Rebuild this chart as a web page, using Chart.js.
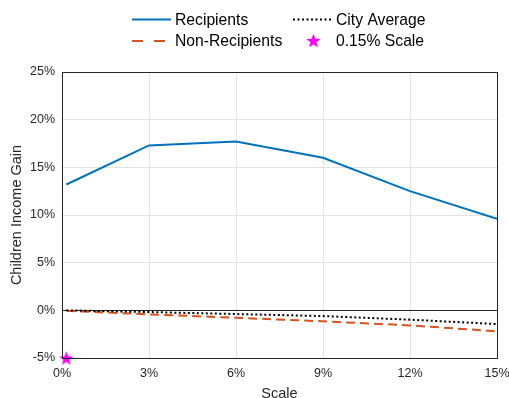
<!DOCTYPE html>
<html>
<head>
<meta charset="utf-8">
<script src="https://cdn.jsdelivr.net/npm/chart.js@4"></script>
<style>
  body { margin: 0; background: #fff; }
  #wrap { width: 509px; height: 398px; }
</style>
</head>
<body>
<div id="wrap"><canvas id="myChart" width="509" height="398"></canvas></div>
<script>
//data
const scale_pts = [0.15, 3, 6, 9, 12, 15];
const recipients = [13.2, 17.3, 17.7, 16.0, 12.5, 9.6];
const non_recipients = [-0.05, -0.42, -0.78, -1.15, -1.58, -2.2];
const city_average = [0, -0.18, -0.39, -0.6, -0.98, -1.44];
const star_point = [{x: 0.15, y: -5}];

const x_ticks = [0, 3, 6, 9, 12, 15];
const y_ticks = [-5, 0, 5, 10, 15, 20, 25];

const blue = '#0072BD';
const orange = '#D95319';
const magenta = '#FF00FF';
const font_family = '"Liberation Sans", Arial, Helvetica, sans-serif';

function toPoints(xs, ys) {
    return xs.map((x, i) => ({x: x, y: ys[i]}));
}

//filled five point star for the marker
function makeStar(size, color) {
    const c = document.createElement('canvas');
    c.width = size; c.height = size;
    const g = c.getContext('2d');
    const cx = size / 2, cy = size / 2 + size * 0.05, r = size / 2, ri = r * 0.42;
    g.beginPath();
    for (let i = 0; i < 10; i++) {
        const a = -Math.PI / 2 + i * Math.PI / 5;
        const rr = i % 2 === 0 ? r : ri;
        g.lineTo(cx + rr * Math.cos(a), cy + rr * Math.sin(a));
    }
    g.closePath();
    g.fillStyle = color;
    g.fill();
    return c;
}
const starImg = makeStar(15, magenta);
const starSmall = makeStar(15, magenta);

//box around plot + legend
const boxPlugin = {
    id: 'box',
    afterDraw(chart) {
        const ctx = chart.ctx;
        const a = chart.chartArea;
        ctx.save();
        ctx.strokeStyle = '#262626';
        ctx.lineWidth = 1;
        ctx.strokeRect(Math.round(a.left) + 0.5, Math.round(a.top) + 0.5,
            Math.round(a.right - a.left), Math.round(a.bottom - a.top));

        ctx.font = '15.7px ' + font_family;
        ctx.fillStyle = '#000';
        ctx.textBaseline = 'middle';
        ctx.lineWidth = 2;
        // row 1
        ctx.strokeStyle = blue;
        ctx.setLineDash([]);
        ctx.beginPath(); ctx.moveTo(132, 19.5); ctx.lineTo(171, 19.5); ctx.stroke();
        ctx.fillText('Recipients', 175, 20.5);
        ctx.strokeStyle = '#000';
        ctx.setLineDash([2, 2.5]);
        ctx.beginPath(); ctx.moveTo(293, 19.5); ctx.lineTo(333, 19.5); ctx.stroke();
        ctx.fillText('City Average', 336, 20.5);
        // row 2
        ctx.strokeStyle = orange;
        ctx.setLineDash([11, 11]);
        ctx.beginPath(); ctx.moveTo(132, 41); ctx.lineTo(165, 41); ctx.stroke();
        ctx.setLineDash([]);
        ctx.fillText('Non-Recipients', 175, 42);
        ctx.drawImage(starSmall, 306, 33);
        ctx.fillText('0.15% Scale', 336, 42);
        ctx.restore();
    }
};

var ctx = document.getElementById('myChart').getContext('2d');
var chart = new Chart(ctx, {
    type: 'scatter',
    data: {
        datasets: [{
            label: 'Recipients',
            data: toPoints(scale_pts, recipients),
            showLine: true,
            borderColor: blue,
            borderWidth: 2,
            pointRadius: 0,
            order: 2
        }, {
            label: 'Non-Recipients',
            data: toPoints(scale_pts, non_recipients),
            showLine: true,
            borderColor: orange,
            borderWidth: 2,
            borderDash: [9, 5],
            pointRadius: 0,
            order: 1
        }, {
            label: 'City Average',
            data: toPoints(scale_pts, city_average),
            showLine: true,
            borderColor: '#000',
            borderWidth: 2,
            borderDash: [2, 2.5],
            pointRadius: 0,
            order: 0
        }, {
            label: '0.15% Scale',
            data: star_point,
            pointStyle: starImg,
            pointRadius: 8,
            clip: false,
            order: -1
        }]
    },
    options: {
        responsive: false,
        animation: false,
        layout: { padding: { top: 72, right: 0, left: 0, bottom: 0 } },
        plugins: {
            legend: { display: false },
            tooltip: { enabled: false }
        },
        scales: {
            x: {
                type: 'linear',
                min: 0, max: 15,
                afterBuildTicks: axis => { axis.ticks = x_ticks.map(v => ({value: v})); },
                afterFit: axis => { axis.height = 40; axis.paddingRight = 12; axis.paddingLeft = 0; },
                ticks: {
                    color: '#262626',
                    font: { family: font_family, size: 12.5 },
                    padding: 8.5,
                    maxRotation: 0,
                    callback: v => v + '%'
                },
                grid: { color: '#e3e3e3', tickLength: 0, drawTicks: false },
                border: { color: '#262626' },
                title: {
                    display: true, text: 'Scale', color: '#262626',
                    font: { family: font_family, size: 14.5, lineHeight: 1 },
                    padding: { top: 0, bottom: -3 }
                }
            },
            y: {
                min: -5, max: 25,
                afterBuildTicks: axis => { axis.ticks = y_ticks.map(v => ({value: v})); },
                afterFit: axis => { axis.width = 62; },
                ticks: {
                    color: '#262626',
                    font: { family: font_family, size: 12.5 },
                    padding: 7,
                    callback: v => v + '%'
                },
                grid: {
                    color: c => c.tick && c.tick.value === 0 ? '#262626' : '#e3e3e3',
                    drawTicks: false,
                    tickLength: 0
                },
                border: { color: '#262626' },
                title: {
                    display: true, text: 'Children Income Gain', color: '#262626',
                    font: { family: font_family, size: 14.5, lineHeight: 1 },
                    padding: { top: 10, bottom: 0 }
                }
            }
        }
    },
    plugins: [boxPlugin]
});
</script>
</body>
</html>
